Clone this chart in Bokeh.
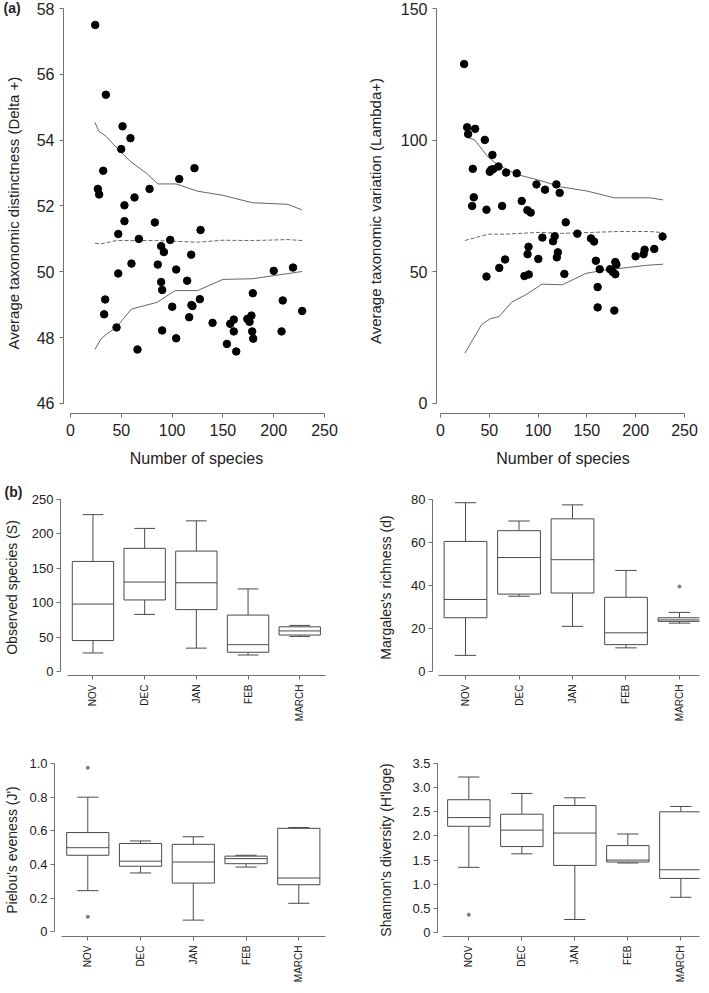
import math
from bokeh.plotting import figure
from bokeh.layouts import column, row
from bokeh.models import FixedTicker, Range1d, Title
from bokeh.embed import file_html
from bokeh.resources import INLINE

# ---------------- (a) data ----------------
delta_species = [24.3, 34.8, 51.2, 59, 49.9, 32.2, 26.9, 28.2, 77.8, 63, 53.1, 107, 122, 53.1, 83,
                 128, 47, 67.3, 98.1, 89.2, 91.9, 118.8, 60, 85.9, 104, 47, 200, 219, 114.8, 89.2,
                 90.2, 34.1, 127.3, 179.4, 208.9, 100.1, 119, 120, 228, 33.1, 116.8, 139.8, 157.2,
                 160.7, 174, 178.1, 176.2, 45.3, 90.2, 160.7, 178.8, 207.7, 104, 179.8, 153.9, 65.9, 163.1]
delta_values = [57.5, 55.38, 54.42, 54.06, 53.73, 53.07, 52.52, 52.35, 52.52, 52.26, 52.02, 52.82, 53.15,
                51.54, 51.5, 51.27, 51.15, 51.0, 50.97, 50.78, 50.6, 50.52, 50.25, 50.22, 50.07, 49.95,
                50.03, 50.13, 49.73, 49.69, 49.45, 49.16, 49.17, 49.35, 49.13, 48.94, 48.99, 48.96,
                48.81, 48.71, 48.62, 48.45, 48.42, 48.55, 48.57, 48.67, 48.48, 48.31, 48.22, 48.19,
                48.19, 48.19, 47.98, 47.97, 47.81, 47.64, 47.58]
delta_upper_x = [24, 28, 35, 42, 59, 75, 86, 104, 125, 149, 179, 214, 228]
delta_upper_y = [54.54, 54.27, 54.12, 53.88, 53.35, 52.99, 52.67, 52.67, 52.45, 52.33, 52.10, 52.05, 51.88]
delta_mean_x = [24, 30, 45, 85, 125, 150, 180, 214, 228]
delta_mean_y = [50.87, 50.85, 50.95, 50.95, 50.90, 50.96, 50.95, 50.98, 50.95]
delta_lower_x = [24, 30, 36, 45, 60, 85, 103, 125, 150, 179, 228]
delta_lower_y = [47.64, 47.96, 48.12, 48.31, 48.87, 49.07, 49.43, 49.43, 49.77, 49.79, 50.01]

lambda_species = [24.2, 27.3, 28.3, 35.5, 45.4, 53.2, 33.1, 59.4, 50.5, 52, 54, 67.2, 78.1, 98.3, 118.7,
                  107.1, 122.1, 34.1, 32.4, 47.1, 63.1, 83.2, 89, 92.4, 128.3, 140.2, 104.4, 117, 115.3,
                  154.2, 157.3, 227.5, 90.2, 89.2, 100.2, 120.2, 119.2, 66.2, 60.2, 47.1, 86, 90.4,
                  126.9, 159.2, 163.1, 161, 161, 173.7, 176.4, 179.1, 179.1, 180.2, 178.1, 199.9,
                  208.1, 209.1, 219]
lambda_values = [128.9, 104.9, 102.3, 104.3, 100.1, 94.4, 89.1, 90.0, 88.0, 88.8, 89.0, 87.7, 87.4, 83.2,
                 83.2, 81.2, 80.0, 78.3, 75.0, 73.6, 75.0, 76.9, 73.4, 72.5, 68.8, 64.5, 63.0, 63.5, 61.6,
                 62.7, 61.5, 63.4, 59.5, 56.7, 54.9, 57.4, 55.5, 54.7, 51.5, 48.2, 48.4, 49.0, 49.2,
                 54.2, 51.0, 44.2, 36.5, 51.0, 50.0, 49.1, 53.7, 52.8, 35.3, 55.9, 56.7, 58.4, 58.7]
lambda_upper_x = [25, 28, 35, 48, 58, 78, 102, 123, 150, 178, 215, 228]
lambda_upper_y = [101.5, 101.0, 100.1, 93.9, 90.8, 87.0, 84.7, 82.3, 80.7, 78.1, 78.1, 77.3]
lambda_mean_x = [25, 49, 66, 102, 124, 181, 215, 228]
lambda_mean_y = [61.9, 64.3, 64.3, 65.0, 64.6, 65.3, 65.3, 64.9]
lambda_lower_x = [25, 42, 51, 60, 73, 87, 104, 125, 149, 167, 212, 228]
lambda_lower_y = [19.1, 29.9, 32.2, 33.0, 38.5, 41.2, 45.3, 45.1, 49.4, 50.6, 52.5, 52.9]

# ---------------- (b) data ----------------
months = ["NOV", "DEC", "JAN", "FEB", "MARCH"]

obs_low = [27, 83, 34, 24, 51]
obs_q1 = [45, 104, 90, 28, 53]
obs_med = [98, 130, 129, 39, 59]
obs_q3 = [160, 179, 175, 82, 65]
obs_high = [228, 208, 219, 120, 67]
obs_out_month, obs_out_val = [], []

marg_low = [7.5, 35, 21, 11, 22.5]
marg_q1 = [25, 36, 36.5, 12.5, 23.3]
marg_med = [33.5, 53, 52, 18, 24]
marg_q3 = [60.5, 65.5, 71, 34.5, 25]
marg_high = [78.5, 70, 77.5, 47, 27.5]
marg_out_month, marg_out_val = ["MARCH"], [39.5]

piel_low = [0.245, 0.35, 0.07, 0.385, 0.17]
piel_q1 = [0.455, 0.39, 0.29, 0.405, 0.28]
piel_med = [0.50, 0.42, 0.415, 0.435, 0.32]
piel_q3 = [0.59, 0.525, 0.52, 0.45, 0.615]
piel_high = [0.80, 0.54, 0.565, 0.455, 0.62]
piel_out_month, piel_out_val = ["NOV", "NOV"], [0.975, 0.09]

shan_low = [1.35, 1.63, 0.27, 1.44, 0.73]
shan_q1 = [2.2, 1.78, 1.39, 1.46, 1.12]
shan_med = [2.38, 2.12, 2.06, 1.5, 1.3]
shan_q3 = [2.75, 2.45, 2.63, 1.8, 2.5]
shan_high = [3.22, 2.88, 2.79, 2.04, 2.61]
shan_out_month, shan_out_val = ["NOV"], [0.37]

FONT = "Liberation Sans"
AXIS = "#707070"
TEXT = "#222222"
LINE = "#666666"
BOX = "#4a4a4a"


def make_fig(w, h, xr, yr, mb):
    p = figure(width=w, height=h, x_range=Range1d(*xr), y_range=Range1d(*yr),
               output_backend="svg", toolbar_location=None,
               min_border_left=mb[0], min_border_right=mb[1],
               min_border_top=mb[2], min_border_bottom=mb[3])
    p.xgrid.visible = False
    p.ygrid.visible = False
    p.outline_line_color = None
    p.background_fill_color = "white"
    p.border_fill_color = "white"
    for ax in (p.xaxis[0], p.yaxis[0]):
        ax.axis_line_color = AXIS
        ax.major_tick_line_color = AXIS
        ax.minor_tick_line_color = None
        ax.major_tick_in = 0
        ax.major_tick_out = 4
        ax.major_label_text_font = FONT
        ax.axis_label_text_font = FONT
        ax.axis_label_text_font_style = "normal"
        ax.major_label_text_color = TEXT
        ax.axis_label_text_color = TEXT
    return p


def scatter_panel(w, xr, yr, mb, xs, ys, ux, uy, mx, my, lx, ly, yticks, ybounds, ylabel, label_std):
    p = make_fig(w, 474, xr, yr, mb)
    p.line(ux, uy, line_color=LINE, line_width=1)
    p.line(lx, ly, line_color=LINE, line_width=1)
    p.line(mx, my, line_color=LINE, line_width=1, line_dash="4 2")
    p.scatter(xs, ys, size=7.5, fill_color="black", line_color="black")
    p.xaxis.ticker = FixedTicker(ticks=[0, 50, 100, 150, 200, 250])
    p.yaxis.ticker = FixedTicker(ticks=yticks)
    p.xaxis.bounds = (0, 250)
    p.yaxis.bounds = ybounds
    p.xaxis.major_label_text_font_size = "16px"
    p.yaxis.major_label_text_font_size = "16px"
    p.xaxis.axis_label = "Number of species"
    p.yaxis.axis_label = ylabel
    p.xaxis.axis_label_text_font_size = "16px"
    p.yaxis.axis_label_text_font_size = "15px"
    p.xaxis.major_label_standoff = 6
    p.yaxis.major_label_standoff = 5
    p.xaxis.axis_label_standoff = 11
    p.yaxis.axis_label_standoff = label_std
    return p


def box_panel(w, h, xr, yr, mb, low, q1, med, q3, high, out_m, out_v, yticks, overrides, ylabel, label_std):
    p = make_fig(w, h, xr, yr, mb)
    pos = [i + 1 for i in range(len(months))]
    half = 0.4
    cap = 0.2
    p.segment(pos, q3, pos, high, line_color=BOX, line_width=1)
    p.segment(pos, low, pos, q1, line_color=BOX, line_width=1)
    p.segment([x - cap for x in pos], high, [x + cap for x in pos], high, line_color=BOX, line_width=1)
    p.segment([x - cap for x in pos], low, [x + cap for x in pos], low, line_color=BOX, line_width=1)
    p.quad(left=[x - half for x in pos], right=[x + half for x in pos], bottom=q1, top=q3,
           fill_color="white", line_color=BOX, line_width=1)
    p.segment([x - half for x in pos], med, [x + half for x in pos], med, line_color=BOX, line_width=1)
    if out_m:
        ox = [months.index(m) + 1 for m in out_m]
        p.scatter(ox, out_v, size=3, fill_color="#777777", line_color="#777777")
    p.xaxis.ticker = FixedTicker(ticks=pos)
    p.xaxis.major_label_overrides = {pos[i]: months[i] for i in range(len(months))}
    p.xaxis.major_label_orientation = math.pi / 2
    p.xaxis.major_label_text_font_size = "10px"
    p.xaxis.major_label_standoff = 5
    p.xaxis.bounds = (0.5, 5.5)
    p.yaxis.ticker = FixedTicker(ticks=yticks)
    if overrides:
        p.yaxis.major_label_overrides = overrides
    p.yaxis.bounds = (yticks[0], yticks[-1])
    p.yaxis.major_label_text_font_size = "13px"
    p.yaxis.major_label_standoff = 3
    p.yaxis.axis_label = ylabel
    p.yaxis.axis_label_text_font_size = "14px"
    p.yaxis.axis_label_standoff = label_std
    return p


# ---- (a) ----
p1 = scatter_panel(354, (-6.9, 254.9), (45.696, 58.0), (63, 25, 8, 61),
                   delta_species, delta_values, delta_upper_x, delta_upper_y,
                   delta_mean_x, delta_mean_y, delta_lower_x, delta_lower_y,
                   [46, 48, 50, 52, 54, 56, 58], (46, 58),
                   "Average  taxonomic distinctness (Delta +)", 12)
try:
    tag_a = Title(text="(a)", align="left", offset=-60, standoff=-15, vertical_align="bottom",
                  text_font=FONT, text_font_size="14px", text_font_style="bold", text_color=TEXT)
except Exception:
    tag_a = Title(text="(a)", align="left", offset=-60, standoff=0,
                  text_font=FONT, text_font_size="14px", text_font_style="bold", text_color=TEXT)
p1.add_layout(tag_a, "above")

p2 = scatter_panel(347, (-4.1, 255.1), (-3.80, 150.0), (82, 12, 8, 61),
                   lambda_species, lambda_values, lambda_upper_x, lambda_upper_y,
                   lambda_mean_x, lambda_mean_y, lambda_lower_x, lambda_lower_y,
                   [0, 50, 100, 150], (0, 150),
                   "Average taxonomic variation (Lambda+)", 14)

# ---- (b) ----
p3 = box_panel(354, 267, (0.372, 5.595), (-5.78, 250), (58, 24, 24, 66),
               obs_low, obs_q1, obs_med, obs_q3, obs_high, obs_out_month, obs_out_val,
               [0, 50, 100, 150, 200, 250], None, "Observed species (S)", 9)
p3.add_layout(Title(text="(b)", align="left", offset=-56, standoff=0,
                    text_font=FONT, text_font_size="14px", text_font_style="bold",
                    text_color=TEXT), "above")

p4 = box_panel(347, 267, (0.383, 5.374), (-1.86, 80), (78, 2, 25, 66),
               marg_low, marg_q1, marg_med, marg_q3, marg_high, marg_out_month, marg_out_val,
               [0, 20, 40, 60, 80], None, "Margales's richness (d)", 14)

p5 = box_panel(354, 244, (0.369, 5.601), (-0.0273, 1.0), (54, 24, 21, 46),
               piel_low, piel_q1, piel_med, piel_q3, piel_high, piel_out_month, piel_out_val,
               [0, 0.2, 0.4, 0.6, 0.8, 1.0],
               {0: "0", 0.2: "0.2", 0.4: "0.4", 0.6: "0.6", 0.8: "0.8", 1.0: "1.0"},
               "Pielou's eveness (J')", 6)

p6 = box_panel(347, 244, (0.409, 5.352), (-0.082, 3.5), (83, 2, 22, 47),
               shan_low, shan_q1, shan_med, shan_q3, shan_high, shan_out_month, shan_out_val,
               [0, 0.5, 1.0, 1.5, 2.0, 2.5, 3.0, 3.5],
               {0: "0", 0.5: "0.5", 1.0: "1.0", 1.5: "1.5", 2.0: "2.0", 2.5: "2.5", 3.0: "3.0", 3.5: "3.5"},
               "Shannon's diversity (H'loge)", 15)

layout = column(row(p1, p2), row(p3, p4), row(p5, p6))

with open("out.html", "w") as f:
    f.write(file_html(layout, INLINE))
